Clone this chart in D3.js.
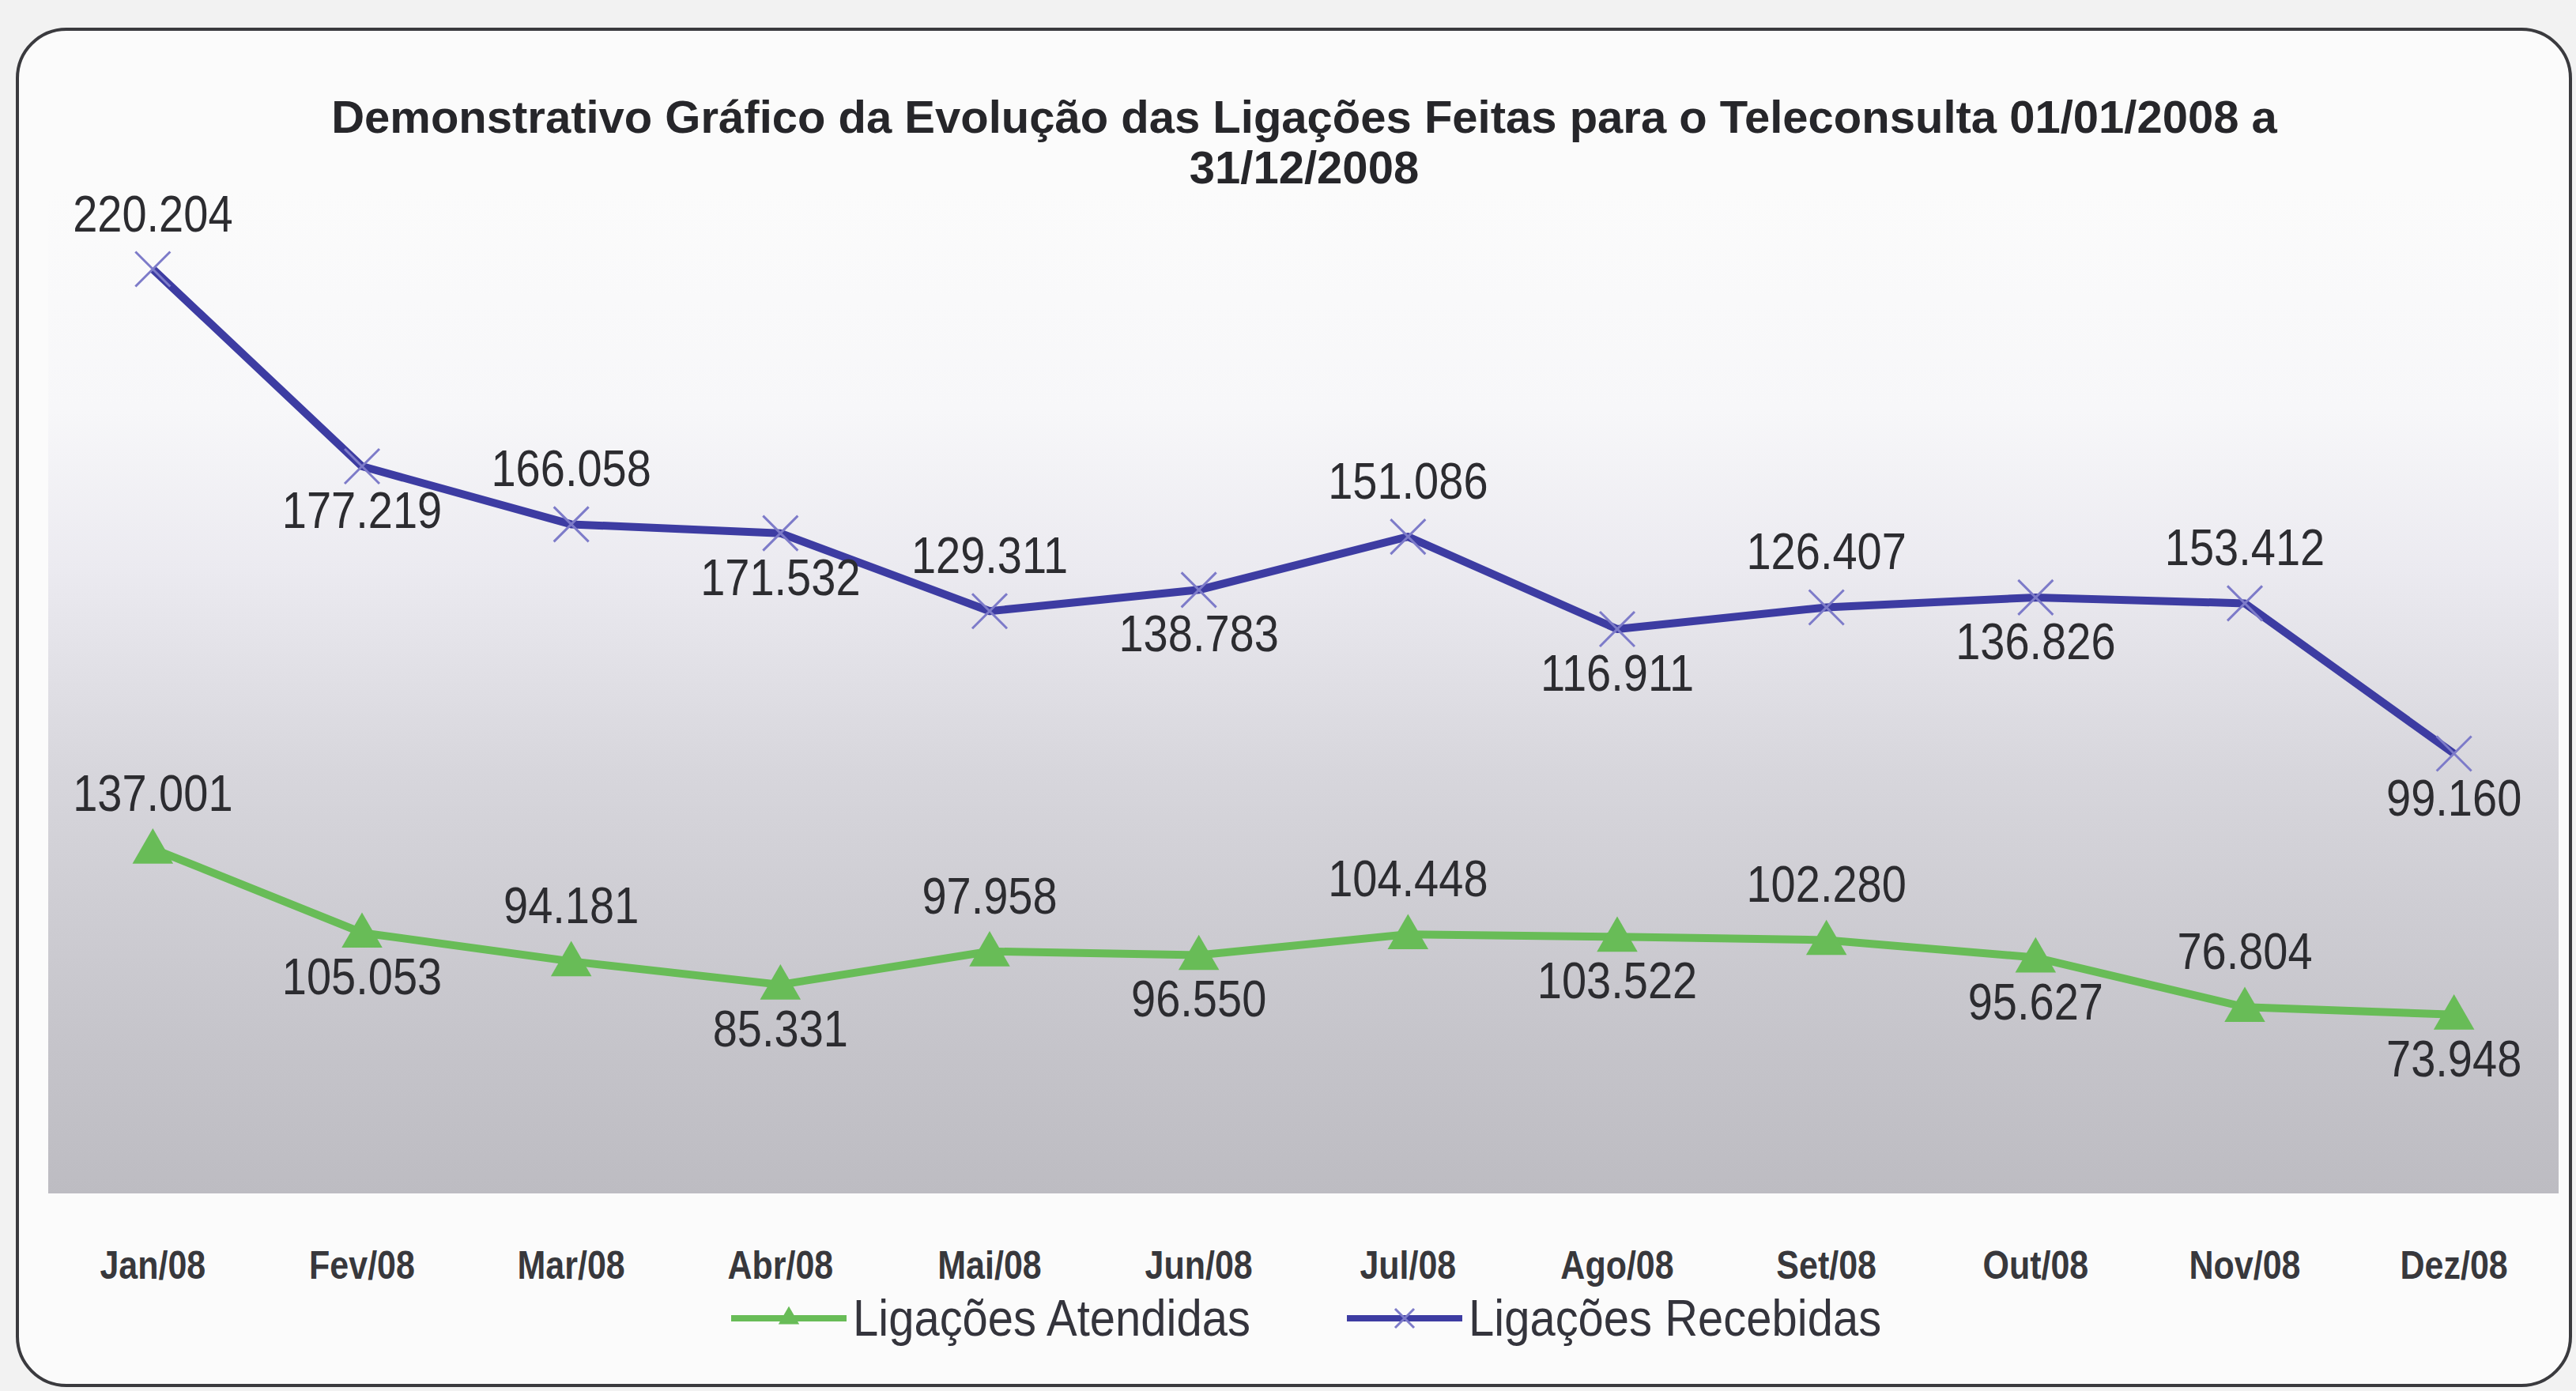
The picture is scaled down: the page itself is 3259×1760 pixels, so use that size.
<!DOCTYPE html>
<html>
<head>
<meta charset="utf-8">
<script src="https://cdn.jsdelivr.net/npm/d3@7"></script>
<style>
  body { margin: 0; background: #f2f2f2; }
  svg { display: block; }
</style>
</head>
<body>
<div id="chart"></div>
<script>

// chart size (same as the window)
const width = 3259;
const height = 1760;

// data
const months = ["Jan/08", "Fev/08", "Mar/08", "Abr/08", "Mai/08", "Jun/08",
                "Jul/08", "Ago/08", "Set/08", "Out/08", "Nov/08", "Dez/08"];
const atendidas = [137001, 105053, 94181, 85331, 97958, 96550,
                   104448, 103522, 102280, 95627, 76804, 73948];
const recebidas = [220204, 177219, 166058, 171532, 129311, 138783,
                   151086, 116911, 126407, 136826, 153412, 99160];
const seriesNames = ["Ligações Atendidas", "Ligações Recebidas"];
const titleLines = ["Demonstrativo Gráfico da Evolução das Ligações Feitas para o Teleconsulta 01/01/2008 a",
                    "31/12/2008"];

const green = "#68bc57";
const blue = "#3d3ca2";
const textColor = "#2c2c30";

// brazilian number format, 220.204
const br = d3.formatLocale({decimal: ",", thousands: ".", grouping: [3], currency: ["R$", ""]});
const fmt = br.format(",d");

const svg = d3.select("#chart")
  .append("svg")
  .attr("width", width)
  .attr("height", height);

// plot area gradient
const defs = svg.append("defs");
const grad = defs.append("linearGradient")
  .attr("id", "plotGrad")
  .attr("x1", 0).attr("y1", 0).attr("x2", 0).attr("y2", 1);
[[0, "#fbfbfb"], [0.22, "#f7f7f9"], [0.38, "#ebeaf0"], [0.58, "#d7d6dc"],
 [0.87, "#c4c3c9"], [1, "#bdbcc2"]].forEach(s => {
  grad.append("stop").attr("offset", s[0]).attr("stop-color", s[1]);
});

// outer frame
svg.append("rect")
  .attr("x", 22).attr("y", 37)
  .attr("width", 3230).attr("height", 1716)
  .attr("rx", 62).attr("ry", 62)
  .attr("fill", "#fbfbfb")
  .attr("stroke", "#3a3a3e")
  .attr("stroke-width", 4);

const plot = {left: 61, right: 3237, top: 240, bottom: 1510};

svg.append("rect")
  .attr("x", plot.left).attr("y", plot.top)
  .attr("width", plot.right - plot.left)
  .attr("height", plot.bottom - plot.top)
  .attr("fill", "url(#plotGrad)");

// scales
const x = d3.scaleBand()
  .domain(months)
  .range([plot.left, plot.right]);
const cx = m => x(m) + x.bandwidth() / 2;

// stacked line chart: recebidas sits on top of atendidas
const y = d3.scaleLinear()
  .domain([0, 400000])
  .range([1530, 198]);

const table = months.map((m, i) => ({month: m, atendidas: atendidas[i], recebidas: recebidas[i]}));
const stacked = d3.stack().keys(["atendidas", "recebidas"])(table);

const line = d3.line()
  .x(d => cx(d.data.month))
  .y(d => y(d[1]));

// green line + triangles
svg.append("path")
  .datum(stacked[0])
  .attr("d", line)
  .attr("fill", "none")
  .attr("stroke", green)
  .attr("stroke-width", 10)
  .attr("stroke-linejoin", "round");

svg.selectAll(".tri")
  .data(stacked[0])
  .join("path")
  .attr("class", "tri")
  .attr("d", d3.symbol(d3.symbolTriangle, 1150))
  .attr("transform", d => `translate(${cx(d.data.month)},${y(d[1]) + 4})`)
  .attr("fill", green);

// blue line + x marks
svg.append("path")
  .datum(stacked[1])
  .attr("d", line)
  .attr("fill", "none")
  .attr("stroke", blue)
  .attr("stroke-width", 10)
  .attr("stroke-linejoin", "round");

const xMark = r => `M${-r},${-r}L${r},${r}M${-r},${r}L${r},${-r}`;
svg.selectAll(".xm")
  .data(stacked[1])
  .join("path")
  .attr("class", "xm")
  .attr("d", xMark(22))
  .attr("transform", d => `translate(${cx(d.data.month)},${y(d[1])})`)
  .attr("fill", "none")
  .attr("stroke", "#7d7bc9")
  .attr("stroke-width", 3);

// value labels, alternate above / below the point
const labelY = (d, i) => i % 2 === 0 ? y(d[1]) - 48 : y(d[1]) + 78;
[stacked[0], stacked[1]].forEach((s, k) => {
  svg.selectAll(".lab" + k)
    .data(s)
    .join("text")
    .attr("class", "lab" + k)
    .attr("transform", (d, i) => `translate(${cx(d.data.month)},${labelY(d, i)}) scale(1,1.15)`)
    .attr("text-anchor", "middle")
    .attr("font-family", "Liberation Sans, Arial, sans-serif")
    .attr("font-size", 56)
    .attr("fill", textColor)
    .text(d => fmt(d.data[k === 0 ? "atendidas" : "recebidas"]));
});

// category labels (no axis line in the original)
svg.selectAll(".month")
  .data(months)
  .join("text")
  .attr("class", "month")
  .attr("transform", d => `translate(${cx(d)},1618) scale(1,1.15)`)
  .attr("text-anchor", "middle")
  .attr("font-family", "Liberation Sans, Arial, sans-serif")
  .attr("font-weight", "bold")
  .attr("font-size", 43)
  .attr("fill", "#38383c")
  .text(d => d);

// title
svg.selectAll(".title")
  .data(titleLines)
  .join("text")
  .attr("class", "title")
  .attr("transform", (d, i) => `translate(1650,${168 + i * 64})`)
  .attr("text-anchor", "middle")
  .attr("font-family", "Liberation Sans, Arial, sans-serif")
  .attr("font-weight", "bold")
  .attr("font-size", 58)
  .attr("fill", "#26262a")
  .text(d => d);

// legend
const legendX = [925, 1704];
const legend = svg.selectAll(".leg")
  .data(seriesNames)
  .join("g")
  .attr("class", "leg")
  .attr("transform", (d, i) => `translate(${legendX[i]},1668)`);

legend.append("line")
  .attr("x1", 0).attr("x2", 146)
  .attr("stroke", (d, i) => i === 0 ? green : blue)
  .attr("stroke-width", 8);

legend.filter((d, i) => i === 0).append("path")
  .attr("d", d3.symbol(d3.symbolTriangle, 300))
  .attr("transform", "translate(73,0)")
  .attr("fill", green);

legend.filter((d, i) => i === 1).append("path")
  .attr("d", xMark(12))
  .attr("transform", "translate(73,0)")
  .attr("stroke", "#7d7bc9")
  .attr("stroke-width", 3);

legend.append("text")
  .attr("transform", "translate(154,22) scale(1,1.12)")
  .attr("font-family", "Liberation Sans, Arial, sans-serif")
  .attr("font-size", 58)
  .attr("fill", "#34343c")
  .text(d => d);

</script>
</body>
</html>
